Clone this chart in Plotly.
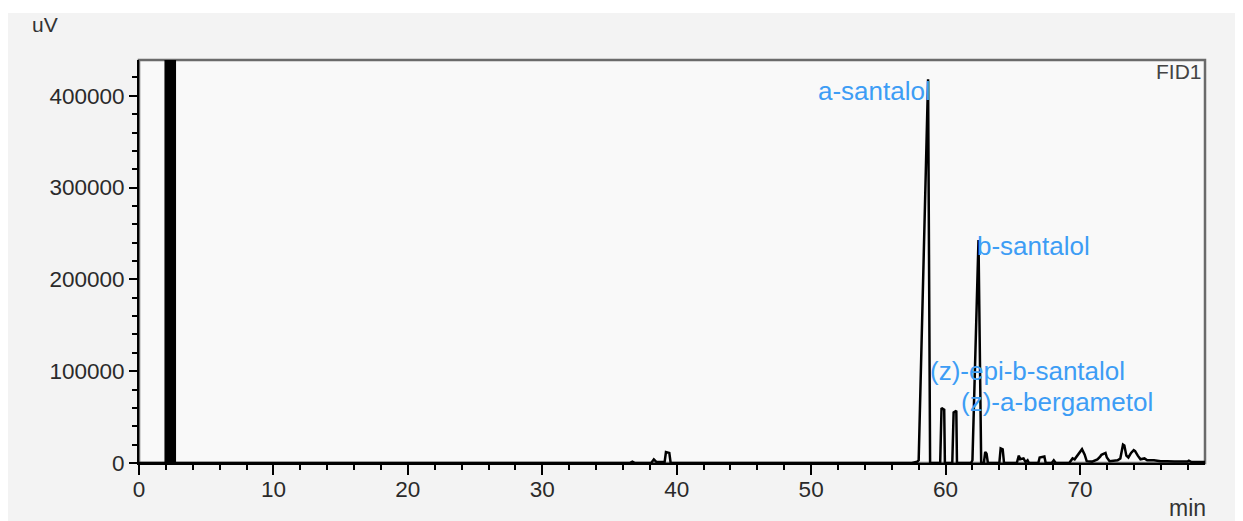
import plotly.graph_objects as go

# Chromatogram trace (retention time in min, signal in uV)
time_min = [0.0, 1.9, 2.7, 36.5, 36.7, 36.9, 38.1, 38.3, 38.5, 39.1, 39.2, 39.45, 39.55,
            57.5, 57.9, 58.0, 58.7, 58.85, 59.6, 59.7, 59.9, 59.95, 60.5, 60.6, 60.8, 60.85,
            61.9, 62.0, 62.45, 62.65, 62.85, 62.95, 63.05, 63.15, 64.0, 64.1, 64.25, 64.35,
            65.3, 65.45, 65.55, 65.8, 65.95, 66.1, 66.2, 66.9, 67.0, 67.35, 67.45, 67.9,
            68.05, 68.2, 69.2, 69.45, 69.6, 69.8, 70.0, 70.15, 70.35, 70.5, 70.9, 71.3, 71.5,
            71.6, 71.9, 72.0, 72.2, 72.8, 73.0, 73.2, 73.3, 73.45, 73.6, 73.8, 74.0, 74.1,
            74.3, 74.5, 74.8, 75.0, 75.5, 76.0, 76.5, 77.0, 78.0, 78.1, 78.3, 79.3]
signal_uv = [0, 0, 0, 0, 1500, 0, 0, 4000, 1000, 1000, 12000, 11000, 0,
             0, 1500, 3000, 418000, 0, 0, 60000, 58000, 0, 0, 55000, 57000, 0,
             0, 3000, 243000, 0, 0, 12000, 10000, 0, 0, 16000, 15000, 0,
             0, 8000, 4000, 5000, 1000, 3000, 0, 0, 6000, 7000, 0, 0,
             3000, 0, 0, 5000, 4000, 8000, 12000, 15000, 9000, 2000, 1500, 4000, 7000,
             9000, 11000, 6000, 2000, 3000, 5000, 20000, 19000, 8000, 6000, 11000, 14000, 13000,
             8000, 4000, 5000, 3000, 3000, 2000, 2000, 1500, 1500, 2500, 1000, 1000]

# Solvent peak (off scale)
solvent_time = [1.95, 1.95, 2.7, 2.7]
solvent_signal = [0, 1000000, 1000000, 0]

peak_names = ["a-santalol", "b-santalol", "(z)-epi-b-santalol", "(z)-a-bergametol"]
peak_label_x = [59.0, 62.3, 58.8, 61.05]
peak_label_y = [405000, 236500, 100300, 66500]
peak_label_anchor = ["right", "left", "left", "left"]

x_ticks = [0, 10, 20, 30, 40, 50, 60, 70]
y_ticks = [0, 100000, 200000, 300000, 400000]

# page body has an 8px margin: the figure starts at (8, 8) of the window
OFF = 8
W, H = 1243 - OFF, 521 - OFF
ML, MR, MT, MB = 139 - OFF, 38, 60 - OFF, 58
pw, ph = W - ML - MR, H - MT - MB


def px_x(x):  # window pixel -> paper x
    return (x - OFF - ML) / pw


def px_y(y):  # window pixel -> paper y
    return (H - MB - (y - OFF)) / ph


fig = go.Figure()
fig.add_trace(go.Scatter(x=solvent_time, y=solvent_signal, mode="lines", fill="toself",
                         fillcolor="black", line=dict(color="black", width=1.5),
                         hoverinfo="skip", showlegend=False))
fig.add_trace(go.Scatter(x=time_min, y=signal_uv, mode="lines",
                         line=dict(color="black", width=2.5), showlegend=False))

tickfont = dict(family="Liberation Sans, Arial, sans-serif", size=22.5, color="#2a2a2a")
fig.update_xaxes(range=[0, 79.3], tickvals=x_ticks, ticktext=[str(v) for v in x_ticks],
                 showgrid=False, zeroline=False, showline=True, linecolor="black", linewidth=2,
                 ticks="outside", ticklen=10, tickwidth=2, tickcolor="black", tickfont=tickfont,
                 ticklabelstandoff=-5,
                 minor=dict(dtick=2, ticks="outside", ticklen=5, tickwidth=2, tickcolor="black",
                            showgrid=False))
fig.update_yaxes(range=[0, 439000], tickvals=y_ticks, ticktext=[str(v) for v in y_ticks],
                 showgrid=False, zeroline=False, showline=True, linecolor="black", linewidth=2,
                 ticks="outside", ticklen=8, tickwidth=2, tickcolor="black", tickfont=tickfont,
                 minor=dict(dtick=20000, ticks="outside", ticklen=5, tickwidth=2, tickcolor="black",
                            showgrid=False))

# frame (top / right) and white strip at top edge
fig.add_shape(type="rect", xref="paper", yref="paper", x0=0, x1=1, y0=0, y1=1,
              line=dict(color="#6a6a6a", width=2.5), layer="below")
fig.add_shape(type="rect", xref="paper", yref="paper", x0=px_x(0), x1=px_x(1243),
              y0=px_y(8), y1=px_y(13), fillcolor="white", line=dict(width=0),
              layer="below")

annfont = dict(family="Liberation Sans, Arial, sans-serif", size=26, color="#3d9df5")
for name, lx, ly, anc in zip(peak_names, peak_label_x, peak_label_y, peak_label_anchor):
    fig.add_annotation(x=lx, y=ly, xref="x", yref="y", text=name, showarrow=False,
                       xanchor=anc, yanchor="middle", font=annfont, borderpad=0)

fig.add_annotation(x=px_x(45), y=px_y(24), xref="paper", yref="paper",
                   text="uV", showarrow=False, xanchor="center", yanchor="middle",
                   font=dict(family="Liberation Sans, Arial, sans-serif", size=21, color="#333333"))
fig.add_annotation(x=px_x(1187), y=px_y(508), xref="paper", yref="paper",
                   text="min", showarrow=False, xanchor="center", yanchor="middle",
                   font=dict(family="Liberation Sans, Arial, sans-serif", size=23, color="#333333"))
fig.add_annotation(x=px_x(1203), y=px_y(72), xref="paper", yref="paper",
                   text="FID1", showarrow=False, xanchor="right", yanchor="middle",
                   font=dict(family="Liberation Sans, Arial, sans-serif", size=21, color="#444444"),
                   borderpad=0)

fig.update_layout(width=W, height=H, margin=dict(l=ML, r=MR, t=MT, b=MB),
                  paper_bgcolor="#f3f3f3", plot_bgcolor="#f9f9f9", showlegend=False)

fig.write_html("out.html")
